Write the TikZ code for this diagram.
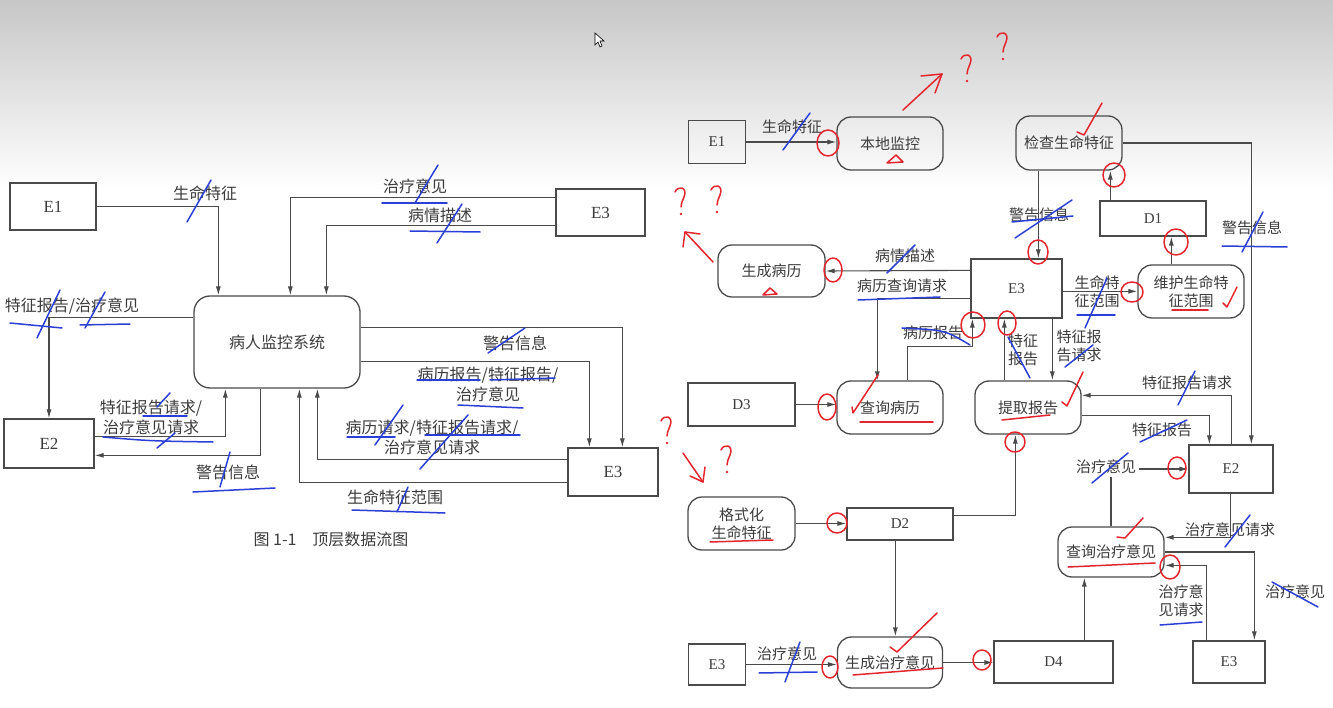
\documentclass[tikz,border=0pt]{standalone}
\usepackage{fontspec}
\setmainfont{Liberation Serif}
\newfontfamily\cjk{Noto Sans CJK SC}
\usetikzlibrary{arrows.meta, calc}
\definecolor{ink}{HTML}{3C3C3C}
\definecolor{wire}{HTML}{4A4A4A}
\definecolor{penblue}{HTML}{2B3FD6}
\definecolor{penred}{HTML}{E3262E}

\begin{document}
\begin{tikzpicture}[x=1pt, y=-1pt,
  box/.style={draw=wire, line width=1.3pt, text=ink, inner sep=0pt,
              font=\fontsize{15}{16}\selectfont},
  ent/.style={box, font=\fontsize{17}{18}\selectfont},
  proc/.style={box, rounded corners=14pt, align=center,
               font=\cjk\fontsize{15}{18}\selectfont},
  arr/.style={draw=wire, line width=1.1pt, -{Latex[length=9pt,width=5pt]}},
  lbl/.style={text=ink, align=center, inner sep=1pt,
              font=\cjk\fontsize{15}{18}\selectfont},
  big/.style={font=\cjk\fontsize{16}{20}\selectfont},
  bpen/.style={draw=penblue, line width=1.5pt, line cap=round, line join=round},
  rpen/.style={draw=penred, line width=1.5pt, line cap=round, line join=round},
  qmark/.pic={\draw[rpen] (-5,-9) .. controls (-2,-16) and (8,-14) .. (4,-4)
                .. controls (2,1) and (1,3) .. (1,6);
              \fill[penred] (1,13) circle (1.3pt);}]
  % page and screen shading
  \fill[white] (0,0) rectangle (1333,708);
  \shade[top color=black!22, bottom color=white] (0,0) rectangle (1333,190);
  \useasboundingbox (0,0) rectangle (1333,708);
  \draw[fill=white, line width=0.6pt] (595,33) -- (595,45) -- (598,42) -- (600,47)
        -- (602,46) -- (600,41) -- (604,41) -- cycle;

  % ---- top level diagram
  \node[ent, minimum width=86pt, minimum height=47pt] (e1) at (53,206.5) {E1};
  \node[proc, big, rounded corners=16pt, minimum width=166pt, minimum height=92pt]
        (sys) at (277,342) {病人监控系统};
  \node[ent, minimum width=89pt, minimum height=47pt] (e3t) at (600.5,212.5) {E3};
  \node[ent, minimum width=90pt, minimum height=49pt] (e2) at (49,443.5) {E2};
  \node[ent, minimum width=90pt, minimum height=48pt] (e3b) at (613,472) {E3};

  \draw[arr] (e1.east) -| ($(sys.north west)+(25,0)$);
  \draw[arr] ($(e3t.north west)+(0,9)$) -| ($(sys.north west)+(97,0)$);
  \draw[arr] ($(e3t.north west)+(0,37)$) -| ($(sys.north west)+(133,0)$);
  \draw[arr] ($(sys.north west)+(0,22)$) -| (e2.north);
  \draw[arr] ($(e2.north east)+(0,18)$) -| ($(sys.south west)+(32,0)$);
  \draw[arr] ($(sys.south west)+(67,0)$) |- ($(e2.north east)+(0,37)$);
  \draw[arr] ($(sys.north east)+(0,32)$) -| ($(e3b.north west)+(55,0)$);
  \draw[arr] ($(sys.north east)+(0,66)$) -| ($(e3b.north west)+(22,0)$);
  \draw[arr] ($(e3b.north west)+(0,12)$) -| ($(sys.south west)+(124,0)$);
  \draw[arr] ($(e3b.north west)+(0,35)$) -| ($(sys.south west)+(106,0)$);

  \node[lbl, big] (l1) at (205,193) {生命特征};
  \node[lbl, big] (l2) at (415,186) {治疗意见};
  \node[lbl, big] (l3) at (440,215) {病情描述};
  \node[lbl, big] (l4) at (72,306) {特征报告/治疗意见};
  \node[lbl, big] (l5) at (151,417) {特征报告请求/\\治疗意见请求};
  \node[lbl, big] (l6) at (228,472) {警告信息};
  \node[lbl, big] (l7) at (515,343) {警告信息};
  \node[lbl, big] (l8) at (488,384) {病历报告/特征报告/\\治疗意见};
  \node[lbl, big] (l9) at (432,437) {病历请求/特征报告请求/\\治疗意见请求};
  \node[lbl, big] (l10) at (395,497) {生命特征范围};
  \node[lbl, big] (cap) at (331,539) {图 1-1\quad 顶层数据流图};

  % ---- refined diagram
  \node[box, minimum width=57pt, minimum height=43pt] (re1) at (717,142) {E1};
  \node[proc, minimum width=106pt, minimum height=53pt] (local) at (890,143.5) {本地监控};
  \node[proc, minimum width=106pt, minimum height=54pt] (check) at (1069,143) {检查生命特征};
  \node[box, minimum width=106pt, minimum height=35pt] (d1) at (1153,218.5) {D1};
  \node[proc, minimum width=106pt, minimum height=53pt] (maint) at (1191,291.5) {维护生命特\\征范围};
  \node[box, minimum width=91pt, minimum height=59pt] (re3) at (1016.5,288.5) {E3};
  \node[proc, minimum width=107pt, minimum height=52pt] (hist) at (771.5,271) {生成病历};
  \node[box, minimum width=107pt, minimum height=43pt] (d3) at (741.5,404.5) {D3};
  \node[proc, minimum width=106pt, minimum height=53pt] (query) at (890,407.5) {查询病历};
  \node[proc, minimum width=106pt, minimum height=53pt] (extract) at (1028,407.5) {提取报告};
  \node[box, minimum width=84pt, minimum height=48pt] (re2) at (1231,469) {E2};
  \node[proc, minimum width=107pt, minimum height=53pt] (format) at (741.5,523.5) {格式化\\生命特征};
  \node[box, minimum width=106pt, minimum height=32pt] (d2) at (900,524) {D2};
  \node[proc, minimum width=106pt, minimum height=50pt] (qadv) at (1111,552) {查询治疗意见};
  \node[proc, minimum width=105pt, minimum height=51pt] (gadv) at (890,662.5) {生成治疗意见};
  \node[box, minimum width=57pt, minimum height=41pt] (re3b) at (717,664.5) {E3};
  \node[box, minimum width=119pt, minimum height=42pt] (d4) at (1053.5,662) {D4};
  \node[box, minimum width=72pt, minimum height=42pt] (re3c) at (1229,662) {E3};

  \draw[arr] (re1.east) -- (re1.east -| local.west);
  \draw[arr] (check.east) -| ($(re2.north west)+(63,0)$);
  \draw[arr] ($(check.south west)+(23,0)$) -- ($(re3.north west)+(68,0)$);
  \draw[arr] ($(d1.north west)+(11,0)$) -- ($(check.south west)+(95,0)$);
  \draw[arr] ($(maint.north west)+(34,0)$) -- ($(d1.south west)+(72,0)$);
  \draw[arr] ($(re3.north east)+(0,33)$) -- ($(maint.north west)+(0,27)$);
  \draw[arr] ($(re3.north west)+(0,12)$) -- (hist.east);
  \draw[arr] ($(re3.north west)+(0,40)$) -| ($(query.north west)+(41,0)$);
  \draw[arr] ($(query.north west)+(71,0)$) |- ($(re3.south west)+(2,28)$)
        -- ($(re3.south west)+(2,0)$);
  \draw[arr] ($(extract.north west)+(30,0)$) -- ($(re3.south west)+(34,0)$);
  \draw[arr] ($(re3.south west)+(82,0)$) -- ($(extract.north west)+(78,0)$);
  \draw[arr] ($(re2.north west)+(43,0)$) |- ($(extract.north east)+(0,15)$);
  \draw[arr] ($(extract.north east)+(0,35)$) -| ($(re2.north west)+(21,0)$);
  \draw[arr] ($(d2.north east)+(0,8)$) -| ($(extract.south west)+(41,0)$);
  \draw[arr] (qadv.north) |- (re2.west);
  \draw[arr] ($(re2.south west)+(42,0)$) |- ($(qadv.north east)+(0,11)$);
  \draw[arr] (qadv.east) -| ($(re3c.north west)+(62,0)$);
  \draw[arr] ($(re3c.north west)+(14,0)$) |- ($(qadv.north east)+(0,39)$);
  \draw[arr] ($(d4.north west)+(91,0)$) -- ($(qadv.south west)+(27,0)$);
  \draw[arr] (gadv.east) -- (gadv.east -| d4.west);
  \draw[arr] ($(d2.south west)+(49,0)$) -- ($(gadv.north west)+(58.5,0)$);
  \draw[arr] (re3b.east) -- (re3b.east -| gadv.west);
  \draw[arr] (d3.east) -- (d3.east -| query.west);
  \draw[arr] (format.east) -- (format.east -| d2.west);

  \node[lbl] (r1) at (792,127) {生命特征};
  \node[lbl] (r2) at (1252,228) {警告信息};
  \node[lbl] (r3) at (1039,215) {警告信息};
  \node[lbl] (r4) at (1097,292) {生命特\\征范围};
  \node[lbl] (r5) at (905,256) {病情描述};
  \node[lbl] (r6) at (902,286) {病历查询请求};
  \node[lbl] (r7) at (933,333) {病历报告};
  \node[lbl] (r8) at (1023,350) {特征\\报告};
  \node[lbl] (r9) at (1079,346) {特征报\\告请求};
  \node[lbl] (r10) at (1187,383) {特征报告请求};
  \node[lbl] (r11) at (1162,430) {特征报告};
  \node[lbl, fill=white, inner sep=3pt] (r12) at (1106,467) {治疗意见};
  \node[lbl] (r13) at (1230,530) {治疗意见请求};
  \node[lbl] (r14) at (1295,592) {治疗意见};
  \node[lbl] (r15) at (1181,601) {治疗意\\见请求};
  \node[lbl] (r16) at (787,654) {治疗意见};

  % ---- pen marks, blue
  \draw[bpen] (187,222) -- (211,180);
  \draw[bpen] (10,323) -- (62,328);
  \draw[bpen] (37,338) -- (60,290);
  \draw[bpen] (80,325) -- (130,324);
  \draw[bpen] (85,328) -- (105,292);
  \draw[bpen] (382,203) -- (447,203);
  \draw[bpen] (415,203) -- (438,165);
  \draw[bpen] (410,231) -- (480,232);
  \draw[bpen] (437,243) -- (462,204);
  \draw[bpen] (488,353) -- (525,328);
  \draw[bpen] (417,380) -- (480,380);
  \draw[bpen] (490,380) -- (555,378);
  \draw[bpen] (458,405) -- (523,408);
  \draw[bpen] (347,437) -- (395,437);
  \draw[bpen] (375,445) -- (403,405);
  \draw[bpen] (425,435) -- (520,435);
  \draw[bpen] (420,469) -- (468,415);
  \draw[bpen] (352,510) -- (445,513);
  \draw[bpen] (397,512) -- (408,487);
  \draw[bpen] (143,416) -- (187,416);
  \draw[bpen] (157,407) -- (170,393);
  \draw[bpen] (103,437) .. controls (150,441) .. (213,442);
  \draw[bpen] (157,448) -- (175,433);
  \draw[bpen] (220,487) -- (230,452);
  \draw[bpen] (193,492) -- (275,488);
  \draw[bpen] (783,150) -- (810,113);
  \draw[bpen] (1012,222) -- (1073,216);
  \draw[bpen] (1015,238) -- (1072,200);
  \draw[bpen] (1222,246) -- (1287,247);
  \draw[bpen] (1242,252) -- (1263,212);
  \draw[bpen] (1085,328) -- (1107,278);
  \draw[bpen] (1077,315) -- (1115,315);
  \draw[bpen] (887,273) -- (915,245);
  \draw[bpen] (858,300) -- (940,297);
  \draw[bpen] (902,328) .. controls (945,330) .. (970,345);
  \draw[bpen] (1008,337) -- (1030,378);
  \draw[bpen] (1065,367) -- (1093,345);
  \draw[bpen] (1178,405) -- (1195,371);
  \draw[bpen] (1140,442) -- (1187,420);
  \draw[bpen] (1092,483) -- (1128,453);
  \draw[bpen] (1225,547) -- (1250,515);
  \draw[bpen] (1272,582) -- (1318,607);
  \draw[bpen] (1160,625) -- (1202,622);
  \draw[bpen] (785,682) -- (800,642);
  \draw[bpen] (759,673) -- (817,672);

  % ---- pen marks, red
  \draw[rpen] (828,143) ellipse (11pt and 13pt);
  \draw[rpen] (1114,175) ellipse (11pt and 12pt);
  \draw[rpen] (1038,252) ellipse (10pt and 12pt);
  \draw[rpen] (1176,242) ellipse (12pt and 13pt);
  \draw[rpen] (1132,292) ellipse (11pt and 10pt);
  \draw[rpen] (833,270) ellipse (9pt and 12pt);
  \draw[rpen] (973,325) ellipse (12pt and 13pt);
  \draw[rpen] (1007,323) ellipse (9pt and 12pt);
  \draw[rpen] (1015,442) ellipse (10pt and 10pt);
  \draw[rpen] (827,407) ellipse (9pt and 13pt);
  \draw[rpen] (837,523) ellipse (10pt and 10pt);
  \draw[rpen] (1177,468) ellipse (9pt and 11pt);
  \draw[rpen] (1170,567) ellipse (10pt and 12pt);
  \draw[rpen] (830,667) ellipse (8pt and 11pt);
  \draw[rpen] (982,660) ellipse (9pt and 10pt);
  \draw[rpen] (1077,132) -- (1084,135) -- (1102,103);
  \draw[rpen] (1223,303) -- (1227,307) -- (1237,287);
  \draw[rpen] (1062,402) -- (1067,406) -- (1083,372);
  \draw[rpen] (852,407) -- (853,413) -- (878,375);
  \draw[rpen] (1117,537) -- (1125,538) -- (1143,518);
  \draw[rpen] (890,647) -- (897,652) -- (937,613);
  \draw[rpen] (1172,310) -- (1208,310);
  \draw[rpen] (1002,420) -- (1050,415);
  \draw[rpen] (860,422) -- (933,422);
  \draw[rpen] (710,542) -- (773,540);
  \draw[rpen] (1068,567) -- (1155,563);
  \draw[rpen] (853,675) -- (943,668);
  \draw[rpen] (887,163) -- (903,162) -- (896,155) -- cycle;
  \draw[rpen] (763,295) -- (777,294) -- (770,288) -- cycle;
  \draw[rpen] (903,110) -- (942,74);
  \draw[rpen] (921,76) -- (942,74) -- (935,93);
  \draw[rpen] (713,262) -- (685,232);
  \draw[rpen] (683,247) -- (685,232) -- (700,234);
  \draw[rpen] (683,453) -- (703,482);
  \draw[rpen] (690,476) -- (703,482) -- (705,467);
  \pic at (966,68) {qmark};
  \pic at (1002,46) {qmark};
  \pic at (680,201) {qmark};
  \pic at (716,199) {qmark};
  \pic at (666,430) {qmark};
  \pic at (726,459) {qmark};
\end{tikzpicture}
\end{document}
